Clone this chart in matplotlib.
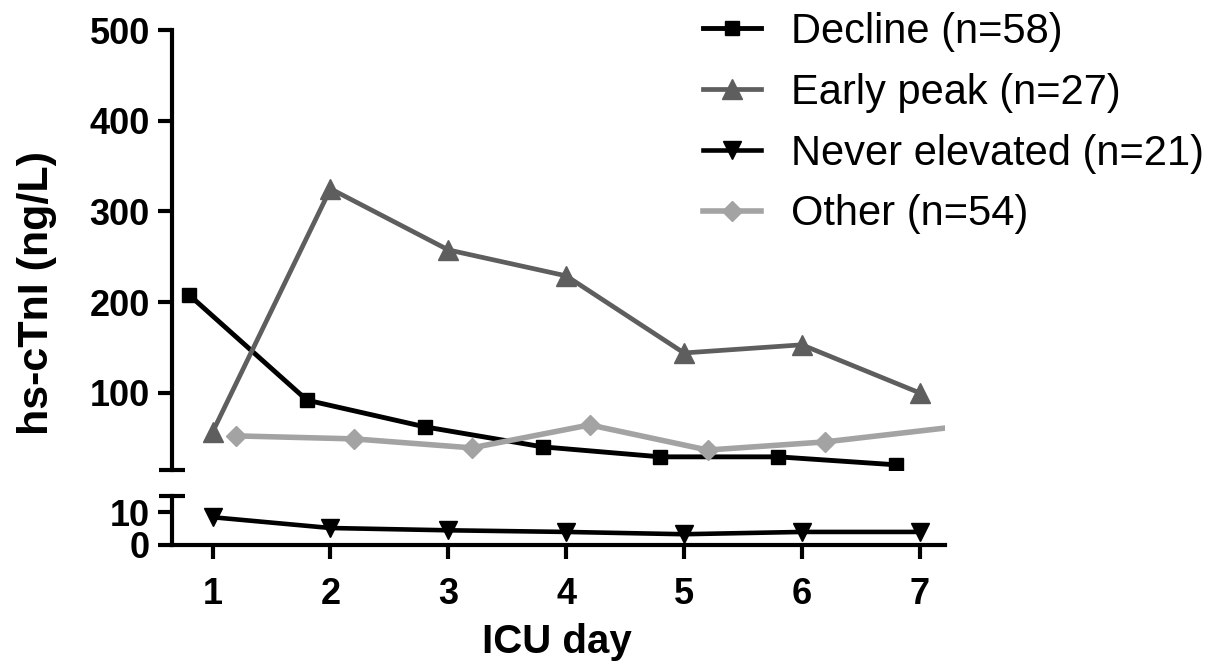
import matplotlib
matplotlib.use("Agg")
import matplotlib.pyplot as plt

plt.rcParams['font.family'] = ['Liberation Sans', 'DejaVu Sans']

days = [1, 2, 3, 4, 5, 6, 7]
day_labels = ["1", "2", "3", "4", "5", "6", "7"]
decline = [208, 92, 62.6, 40.5, 29.5, 29.5, 20.7]
early_peak = [57, 325, 257.6, 229, 144, 153, 100]
never_elevated = [8.5, 5.2, 4.5, 4.0, 3.3, 4.0, 4.0]
other = [52.6, 49.3, 39.4, 64.7, 37, 46, 61]
offsets = {"decline": -0.2, "early": 0.0, "never": 0.0, "other": 0.2}
labels = ["Decline (n=58)", "Early peak (n=27)", "Never elevated (n=21)", "Other (n=54)"]
upper_ticks = [100, 200, 300, 400, 500]
lower_ticks = [0, 10]

W, H = 1212, 665
fig = plt.figure(figsize=(W / 100, H / 100), dpi=100)

left = 172 / W
width = (945 - 172) / W
ax_up = fig.add_axes([left, 1 - 470 / H, width, (470 - 30) / H])
ax_lo = fig.add_axes([left, 1 - 545 / H, width, (545 - 496) / H])

c_black = "#000000"
c_dark = "#5e5e5e"
c_light = "#a3a3a3"

xd = [d + offsets["decline"] for d in days]
xe = [d + offsets["early"] for d in days]
xn = [d + offsets["never"] for d in days]
xo = [d + offsets["other"] for d in days]

h1, = ax_up.plot(xd, decline, color=c_black, lw=3.5, marker='s', ms=10.5, label=labels[0])
h2, = ax_up.plot(xe, early_peak, color=c_dark, lw=3.4, marker='^', ms=14, label=labels[1])
h4, = ax_up.plot(xo, other, color=c_light, lw=4, marker='D', ms=10, markevery=slice(0, 6), label=labels[3])
h3, = ax_lo.plot(xn, never_elevated, color=c_black, lw=3.3, marker='v', ms=13, label=labels[2])

TICK_FS = 26
xlim = (0.655, 7.215)
for ax in (ax_up, ax_lo):
    ax.set_xlim(*xlim)
    for s in ("top", "right"):
        ax.spines[s].set_visible(False)
    ax.spines["left"].set_linewidth(3)
    ax.spines["bottom"].set_linewidth(3)
    ax.tick_params(axis='both', direction='out', length=10, width=3, labelsize=TICK_FS)

ax_up.set_ylim(15, 500)
ax_up.set_yticks(upper_ticks)
ax_up.set_yticklabels([str(t) for t in upper_ticks], fontweight='bold', fontsize=TICK_FS)
ax_up.spines["bottom"].set_visible(False)
ax_up.set_xticks([])
ax_up.tick_params(axis='y', pad=6)

ax_lo.set_ylim(0, 15)
ax_lo.set_yticks(lower_ticks)
ax_lo.set_yticklabels([str(t) for t in lower_ticks], fontweight='bold', fontsize=TICK_FS)
ax_lo.set_xticks(days)
ax_lo.set_xticklabels(day_labels, fontweight='bold', fontsize=TICK_FS)
ax_lo.tick_params(axis='x', pad=13)
ax_lo.tick_params(axis='y', pad=6)

# caps at the break of the segmented axis
ax_up.plot([0], [0], transform=ax_up.transAxes, marker='_', ms=19, mew=3, color='k', clip_on=False)
ax_lo.plot([0], [1], transform=ax_lo.transAxes, marker='_', ms=19, mew=3, color='k', clip_on=False)

fig.text(37 / W, 1 - 293 / H, "hs-cTnI (ng/L)", rotation=90, ha='center', va='center',
         fontsize=31, fontweight='bold')
fig.text(557 / W, 1 - 653 / H, "ICU day", ha='center', va='baseline',
         fontsize=29, fontweight='bold')

fig.legend(handles=[h1, h2, h3, h4], loc='upper left', bbox_to_anchor=(703 / W, 1 - 12 / H),
           frameon=False, fontsize=30, handlelength=1.4, handletextpad=0.72,
           labelspacing=0.5, borderpad=0, borderaxespad=0)

fig.savefig("out.png", dpi=100)
